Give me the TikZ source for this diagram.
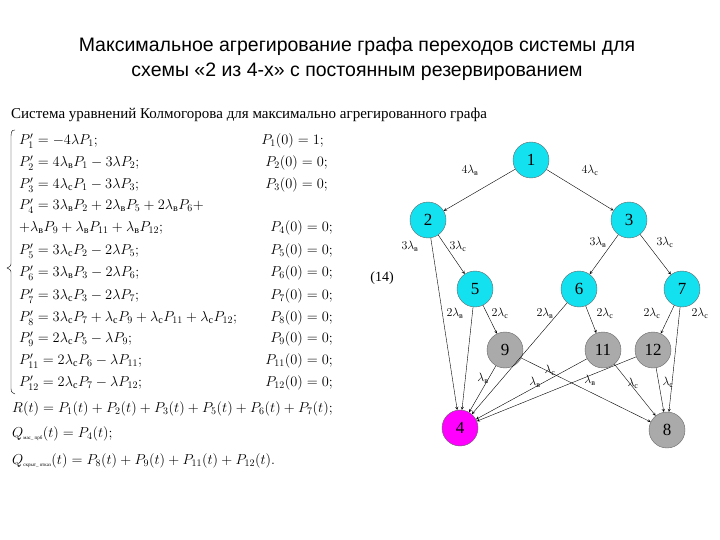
\documentclass[tikz,border=0pt]{standalone}
\usepackage{amsmath}
\usepackage{fontspec}
\setmainfont{Liberation Serif}
\newfontfamily\titlefont{Liberation Sans}
\newcommand{\lv}{\lambda_{\text{в}}}
\newcommand{\lc}{\lambda_{\text{с}}}
\definecolor{aqua}{RGB}{20,225,240}
\definecolor{gry}{RGB}{170,170,170}
\definecolor{mgt}{RGB}{255,0,255}
\begin{document}
\begin{tikzpicture}[x=1pt,y=-1pt,
  st/.style={circle,draw=black!60,minimum size=36pt,inner sep=0pt,font=\fontsize{17}{17}\selectfont},
  cy/.style={st,fill=aqua},
  gr/.style={st,fill=gry},
  mg/.style={st,fill=mgt},
  arr/.style={->,>=stealth,thin},
  lb/.style={font=\fontsize{12}{12}\selectfont,inner sep=1pt},
  eq/.style={anchor=west,font=\fontsize{14.5}{14.5}\selectfont,inner sep=0pt},
  ic/.style={anchor=east,font=\fontsize{14.5}{14.5}\selectfont,inner sep=0pt}]
\useasboundingbox (0,0) rectangle (720,540);
\node[font=\titlefont\fontsize{19.5}{25}\selectfont,align=center] (title) at (357,59) {Максимальное агрегирование графа переходов системы для\\схемы «2 из 4-х» с постоянным резервированием};
\node[anchor=west,font=\fontsize{15}{15}\selectfont,inner sep=0pt] (head) at (11,115) {Система уравнений Колмогорова для максимально агрегированного графа};
\draw[thin] (15,130) .. controls (11,130) and (11,132) .. (11,140) -- (11,262) .. controls (11,266) .. (7,268) .. controls (11,270) .. (11,274) -- (11,386) .. controls (11,392) .. (15,394);
\node[eq] (e1) at (19,141) {$P_1' = -4\lambda P_1;$};
\node[eq] (e2) at (19,163) {$P_2' = 4\lv P_1 - 3\lambda P_2;$};
\node[eq] (e3) at (19,185) {$P_3' = 4\lc P_1 - 3\lambda P_3;$};
\node[eq] (e4) at (19,206) {$P_4' = 3\lv P_2 + 2\lv P_5 + 2\lv P_6 +$};
\node[eq] (e4b) at (19,228) {$+\lv P_9 + \lv P_{11} + \lv P_{12};$};
\node[eq] (e5) at (19,251) {$P_5' = 3\lc P_2 - 2\lambda P_5;$};
\node[eq] (e6) at (19,273) {$P_6' = 3\lv P_3 - 2\lambda P_6;$};
\node[eq] (e7) at (19,296) {$P_7' = 3\lc P_3 - 2\lambda P_7;$};
\node[eq] (e8) at (19,318) {$P_8' = 3\lc P_7 + \lc P_9 + \lc P_{11} + \lc P_{12};$};
\node[eq] (e9) at (19,339) {$P_9' = 2\lc P_5 - \lambda P_9;$};
\node[eq] (e11) at (19,361) {$P_{11}' = 2\lc P_6 - \lambda P_{11};$};
\node[eq] (e12) at (19,383) {$P_{12}' = 2\lc P_7 - \lambda P_{12};$};
\node[ic] (c1) at (324,141) {$P_1(0) = 1;$};
\node[ic] (c2) at (328,163) {$P_2(0) = 0;$};
\node[ic] (c3) at (328,185) {$P_3(0) = 0;$};
\node[ic] (c4) at (333,228) {$P_4(0) = 0;$};
\node[ic] (c5) at (333,251) {$P_5(0) = 0;$};
\node[ic] (c6) at (333,273) {$P_6(0) = 0;$};
\node[ic] (c7) at (333,296) {$P_7(0) = 0;$};
\node[ic] (c8) at (333,318) {$P_8(0) = 0;$};
\node[ic] (c9) at (333,339) {$P_9(0) = 0;$};
\node[ic] (c11) at (333,361) {$P_{11}(0) = 0;$};
\node[ic] (c12) at (333,383) {$P_{12}(0) = 0;$};
\node[eq] (r) at (12,409) {$R(t) = P_1(t) + P_2(t) + P_3(t) + P_5(t) + P_6(t) + P_7(t);$};
\node[eq] (q1) at (12,434) {$Q_{\text{\tiny мас\_ прб}}(t) = P_4(t);$};
\node[eq] (q2) at (12,461) {$Q_{\text{\tiny скрыт\_ отказ}}(t) = P_8(t) + P_9(t) + P_{11}(t) + P_{12}(t).$};
\node[font=\fontsize{14}{14}\selectfont] (n14) at (382,278) {(14)};
% graph
\node[cy] (n1) at (531,160) {1};
\node[cy] (n2) at (428,220) {2};
\node[cy] (n3) at (629,220) {3};
\node[cy] (n5) at (475,289) {5};
\node[cy] (n6) at (579,289) {6};
\node[cy] (n7) at (682,289) {7};
\node[gr] (n9) at (505,350) {9};
\node[gr] (n11) at (603,350) {11};
\node[gr] (n12) at (653,350) {12};
\node[mg] (n4) at (460,428) {4};
\node[gr] (n8) at (667,430) {8};
\draw[arr] (n1) -- (n2);
\draw[arr] (n1) -- (n3);
\draw[arr] (n2) -- (n5);
\draw[arr] (n2) -- (n4);
\draw[arr] (n3) -- (n6);
\draw[arr] (n3) -- (n7);
\draw[arr] (n5) -- (n4);
\draw[arr] (n5) -- (n9);
\draw[arr] (n6) -- (n4);
\draw[arr] (n6) -- (n11);
\draw[arr] (n7) -- (n12);
\draw[arr] (n7) -- (n8);
\draw[arr] (n9) -- (n4);
\draw[arr] (n9) -- (n8);
\draw[arr] (n11) -- (n4);
\draw[arr] (n11) -- (n8);
\draw[arr] (n12) -- (n4);
\draw[arr] (n12) -- (n8);
\node[lb] (l12) at (470,170) {$4\lv$};
\node[lb] (l13) at (590,170) {$4\lc$};
\node[lb] (l24) at (410,246) {$3\lv$};
\node[lb] (l25) at (458,246) {$3\lc$};
\node[lb] (l36) at (598,242) {$3\lv$};
\node[lb] (l37) at (665,242) {$3\lc$};
\node[lb] (l54) at (455,313) {$2\lv$};
\node[lb] (l59) at (500,313) {$2\lc$};
\node[lb] (l64) at (545,313) {$2\lv$};
\node[lb] (l611) at (605,313) {$2\lc$};
\node[lb] (l712) at (652,313) {$2\lc$};
\node[lb] (l78) at (700,313) {$2\lc$};
\node[lb] (l94) at (483,378) {$\lv$};
\node[lb] (l98) at (550,370) {$\lc$};
\node[lb] (l114) at (535,382) {$\lv$};
\node[lb] (l124) at (590,380) {$\lv$};
\node[lb] (l118) at (633,383) {$\lc$};
\node[lb] (l128) at (668,382) {$\lc$};
\end{tikzpicture}
\end{document}
